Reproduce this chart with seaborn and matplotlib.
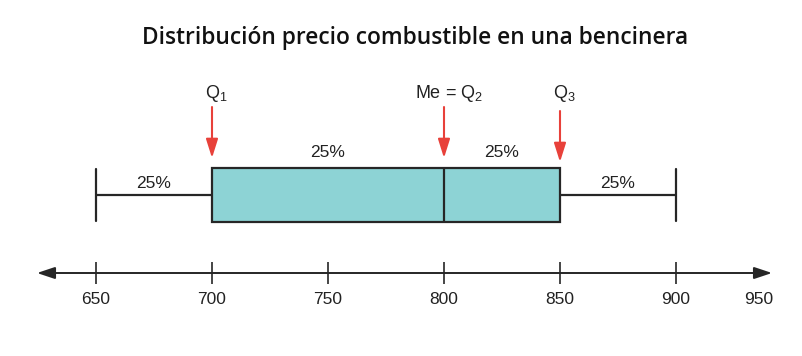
import numpy as np
import matplotlib
matplotlib.use("Agg")
import matplotlib.pyplot as plt
import seaborn as sns

# ------------------------------------------
# Data
# ------------------------------------------
prices = [650, 700, 800, 850, 900]          # min, Q1, Me, Q3, max
quartiles = [700, 800, 850]
quartile_labels = [r"Q$_{\mathrm{1}}$", r"Me = Q$_{\mathrm{2}}$", r"Q$_{\mathrm{3}}$"]
segment_labels = ["25%", "25%", "25%", "25%"]
axis_ticks = [650, 700, 750, 800, 850, 900]
last_tick_label = "950"
title = "Distribución precio combustible en una bencinera"

sns.set_theme(style="white")
FONT = ["Liberation Sans", "DejaVu Sans"]
plt.rcParams["font.family"] = FONT
plt.rcParams["mathtext.fontset"] = "custom"
plt.rcParams["mathtext.rm"] = "Liberation Sans"

BOX_COLOR = "#8dd3d5"
LINE_COLOR = "#262626"
TEXT_COLOR = "#222222"
RED = "#e8413a"

# pixel helpers (figure is 803x356 px)
PX_PER_UNIT_X = 116 / 50
PX_PER_UNIT_Y = 67.5
Y_CENTER = 195


def py(pix):
    return (pix - Y_CENTER) / PX_PER_UNIT_Y


xlim = (650 - 96 / PX_PER_UNIT_X, 650 + (803 - 96) / PX_PER_UNIT_X)

fig = plt.figure(figsize=(8.03, 3.56), dpi=100)
ax = fig.add_axes([0, 0, 1, 1])

sns.boxplot(x=prices, ax=ax, color=BOX_COLOR, linecolor=LINE_COLOR, linewidth=1.6,
            width=0.8, saturation=1, capwidths=0.78)
ax.set_xlim(xlim)
ax.set_ylim(py(356), py(0))
ax.axis("off")

# 25% labels between consecutive summary values
mids = [(a + b) / 2 for a, b in zip(prices[:-1], prices[1:])]
label_y = [py(184), py(153), py(153), py(184)]
for m, y, lab in zip(mids, label_y, segment_labels):
    ax.text(m, y, lab, ha="center", va="center", fontsize=12.5, color=TEXT_COLOR)

# red arrows + quartile labels
arrow_top = [py(107), py(107), py(111)]
arrow_tip = [py(158), py(158), py(162)]
for q, lab, y0, y1 in zip(quartiles, quartile_labels, arrow_top, arrow_tip):
    ax.annotate("", xy=(q, y1), xytext=(q, y0),
                arrowprops=dict(arrowstyle="-|>,head_length=0.95,head_width=0.3",
                                color=RED, lw=1.5, shrinkA=0, shrinkB=0))
    ax.text(q + 2, py(94), lab, ha="center", va="center", fontsize=13, color=TEXT_COLOR)

# number line with arrows at both ends
ax.annotate("", xy=(xlim[0] + 37 / PX_PER_UNIT_X, py(273)),
            xytext=(xlim[0] + 772 / PX_PER_UNIT_X, py(273)),
            arrowprops=dict(arrowstyle="<|-|>,head_length=0.9,head_width=0.3",
                            color=LINE_COLOR, lw=1.4, shrinkA=0, shrinkB=0))

ax_num = fig.add_axes([0, 1 - 273 / 356, 1, 1e-6])
ax_num.set_xlim(xlim)
ax_num.set_yticks([])
for s in ax_num.spines.values():
    s.set_visible(False)
ax_num.patch.set_visible(False)
ax_num.set_xticks(axis_ticks)
ax_num.set_xticklabels([str(t) for t in axis_ticks])
ax_num.tick_params(axis="x", direction="inout", length=16, width=1.2, color=LINE_COLOR,
                   labelsize=12.5, labelcolor=TEXT_COLOR, pad=5.5, bottom=True)

# the last label sits just before the arrow head, without a tick
ax.text(xlim[0] + 759 / PX_PER_UNIT_X, py(299), last_tick_label, ha="center", va="center",
        fontsize=12.5, color=TEXT_COLOR)

fig.text(415.5 / 803, 1 - 38 / 356, title, ha="center", va="center", fontsize=16.4,
         fontweight=600, family=["Open Sans", "DejaVu Sans"], color="#111111")

fig.savefig("out.png", dpi=100)
